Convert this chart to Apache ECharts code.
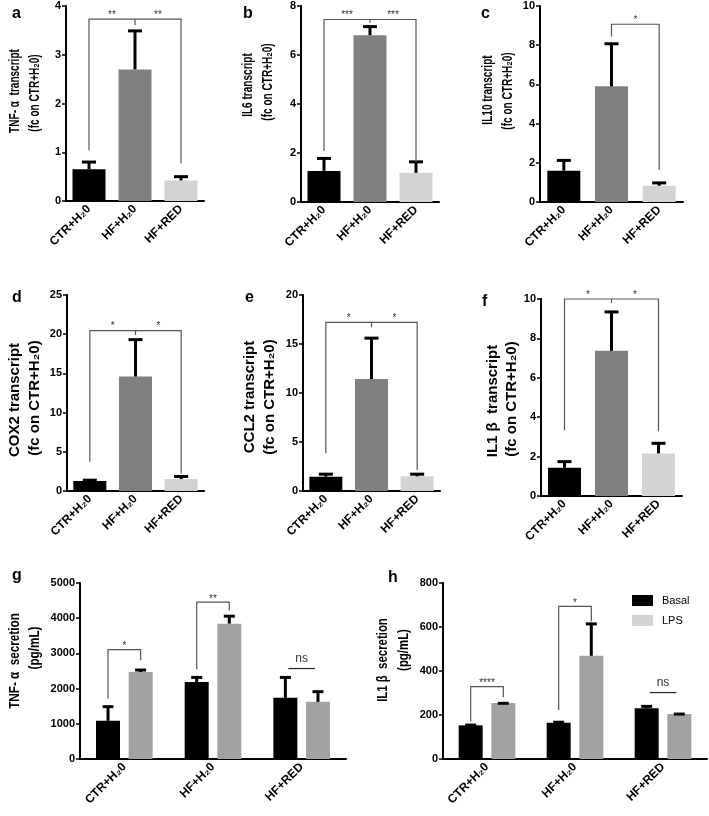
<!DOCTYPE html>
<html>
<head>
<meta charset="utf-8">
<script src="https://cdn.jsdelivr.net/npm/echarts@6/dist/echarts.min.js"></script>
<style>
html,body{margin:0;padding:0;background:#fff;}
#chart{width:709px;height:816px;}
</style>
</head>
<body>
<div id="chart"></div>
<script>
// ---------- data ----------
const categories = ['CTR+H\u20820', 'HF+H\u20820', 'HF+RED'];

// transcript panels (fold change on CTR+H2O): bar mean and top of error bar
const tnfTrMean  = [0.65, 2.70, 0.42];   const tnfTrErr  = [0.83, 3.52, 0.53];
const il6Mean    = [1.27, 6.81, 1.19];   const il6Err    = [1.84, 7.22, 1.70];
const il10Mean   = [1.60, 5.90, 0.83];   const il10Err   = [2.20, 8.15, 1.05];
const cox2Mean   = [1.28, 14.6, 1.53];   const cox2Err   = [1.57, 19.5, 2.04];
const ccl2Mean   = [1.46, 11.43, 1.50];  const ccl2Err   = [1.87, 15.75, 1.87];
const il1bTrMean = [1.43, 7.37, 2.16];   const il1bTrErr = [1.82, 9.42, 2.75];

// significance brackets: [fromCat, toCat, bracketY, fromEndY, toEndY, midCat(-1 none), midEndY]
const tnfTrBracket = [0, 2, 3.73, 1.04, 0.77, 1, 3.61];  const tnfTrStars = ['**', '**'];
const il6Bracket   = [0, 2, 7.45, 2.08, 1.63, 1, 7.32];  const il6Stars   = ['***', '***'];
const il10Bracket  = [1, 2, 9.07, 8.44, 1.65, -1, 0];    const il10Stars  = ['*'];
const cox2Bracket  = [0, 2, 20.45, 3.74, 2.25, 1, 19.9]; const cox2Stars  = ['*', '*'];
const ccl2Bracket  = [0, 2, 17.2, 3.84, 2.14, 1, 16.7];  const ccl2Stars  = ['*', '*'];
const il1bTrBracket= [0, 2, 10.0, 3.34, 3.29, 1, 9.8];   const il1bTrStars= ['*', '*'];

// secretion panels (pg/mL)
const seriesNames = ['Basal', 'LPS'];
const tnfSecBasal = [1085, 2190, 1737];  const tnfSecBasalErr = [1530, 2360, 2360];
const tnfSecLps   = [2473, 3845, 1623];  const tnfSecLpsErr   = [2570, 4100, 1955];
const il1bSecBasal = [153, 165, 231];    const il1bSecBasalErr = [161, 174, 246];
const il1bSecLps   = [254, 469, 205];    const il1bSecLpsErr   = [260, 621, 211];
// [cat, bracketY, basalEndY, lpsEndY]
const tnfSecBrackets  = [[0, 3107, 1720, 2805], [1, 4456, 2550, 4220], [2, 2570, 2570, 2570]];
const tnfSecLabels    = ['*', '**', 'ns'];
const il1bSecBrackets = [[0, 329, 170, 281], [1, 694, 223, 625], [2, 302, 302, 302]];
const il1bSecLabels   = ['****', '*', 'ns'];

// axis ranges
const yMax      = [4, 8, 10, 25, 20, 10, 5000, 800];
const yInterval = [1, 2, 2, 5, 5, 2, 1000, 200];

// ---------- styling ----------
const FONT = '"Liberation Sans", Arial, Helvetica, sans-serif';
const trColors = ['#000000', '#808080', '#d3d3d3'];
const grids = [
  {left: 66,  top: 6,   width: 138, height: 195},
  {left: 301, top: 6,   width: 138, height: 196},
  {left: 540, top: 6,   width: 143, height: 196},
  {left: 67,  top: 295, width: 137, height: 196},
  {left: 303, top: 295, width: 137, height: 196},
  {left: 541, top: 299, width: 141, height: 197},
  {left: 80,  top: 583, width: 266, height: 176},
  {left: 443, top: 583, width: 264, height: 176}
];

const xAxes = grids.map((g, i) => ({
  type: 'category', gridIndex: i, data: categories,
  axisLine: {lineStyle: {color: '#000', width: 2}},
  axisTick: {alignWithLabel: true, length: 4, lineStyle: {color: '#000', width: 1.5}},
  axisLabel: {rotate: 45, interval: 0, color: '#000', fontWeight: 'bold', fontSize: 12, fontFamily: FONT, margin: 6}
}));
const yAxes = grids.map((g, i) => ({
  type: 'value', gridIndex: i, min: 0, max: yMax[i], interval: yInterval[i],
  axisLine: {show: true, lineStyle: {color: '#000', width: 2}},
  axisTick: {show: true, length: 4, lineStyle: {color: '#000', width: 1.5}},
  splitLine: {show: false},
  axisLabel: {color: '#000', fontWeight: 'bold', fontSize: 11, fontFamily: FONT, margin: 5,
    formatter: v => String(v)}
}));

function trBars(gi, mean) {
  return {type: 'bar', xAxisIndex: gi, yAxisIndex: gi, barWidth: 33, z: 2, silent: true,
    data: mean.map((v, i) => ({value: v, itemStyle: {color: trColors[i]}}))};
}
function errSeries(gi, mean, err, offset, capW) {
  return {type: 'custom', xAxisIndex: gi, yAxisIndex: gi, z: 4, silent: true,
    data: mean.map((m, i) => [i, m, err[i]]),
    renderItem: (params, api) => {
      const p0 = api.coord([api.value(0), api.value(1)]);
      const p1 = api.coord([api.value(0), api.value(2)]);
      const x = p0[0] + offset, yc = p1[1] + 1.5;
      return {type: 'group', children: [
        {type: 'line', shape: {x1: x, y1: p0[1], x2: x, y2: yc}, style: {stroke: '#000', lineWidth: 3}},
        {type: 'line', shape: {x1: x - capW / 2, y1: yc, x2: x + capW / 2, y2: yc}, style: {stroke: '#000', lineWidth: 3}}
      ]};
    }};
}
function trBracket(gi, brk, stars) {
  return {type: 'custom', xAxisIndex: gi, yAxisIndex: gi, z: 5, silent: true,
    data: [brk],
    renderItem: (params, api) => {
      const from = api.value(0), to = api.value(1), y = api.value(2);
      const pA = api.coord([from, api.value(3)]), pB = api.coord([from, y]);
      const pC = api.coord([to, y]), pD = api.coord([to, api.value(4)]);
      const mid = api.value(5);
      const ch = [{type: 'polyline', shape: {points: [pA, pB, pC, pD]},
        style: {stroke: '#555', lineWidth: 1.2, fill: null}}];
      let xs;
      if (mid >= 0) {
        const pM = api.coord([mid, y]), pM2 = api.coord([mid, api.value(6)]);
        ch.push({type: 'line', shape: {x1: pM[0], y1: pM[1], x2: pM2[0], y2: pM2[1]}, style: {stroke: '#555', lineWidth: 1.2}});
        xs = [(pB[0] + pM[0]) / 2, (pM[0] + pC[0]) / 2];
      } else {
        xs = [(pB[0] + pC[0]) / 2];
      }
      xs.forEach((x, k) => ch.push({type: 'text', style: {text: stars[k], x: x, y: pB[1] + 1,
        font: '10px ' + FONT, fill: '#333', align: 'center', verticalAlign: 'bottom',
        textAlign: 'center', textVerticalAlign: 'bottom'}}));
      return {type: 'group', children: ch};
    }};
}
function secBracket(gi, brks, labels, half) {
  return {type: 'custom', xAxisIndex: gi, yAxisIndex: gi, z: 5, silent: true,
    data: brks,
    renderItem: (params, api) => {
      const c = api.coord([api.value(0), api.value(1)]);
      const yL = api.coord([api.value(0), api.value(2)])[1];
      const yR = api.coord([api.value(0), api.value(3)])[1];
      const lab = labels[params.dataIndex];
      const ns = lab === 'ns';
      const h = ns ? half - 3 : half;
      const ch = [{type: 'polyline', shape: {points: [[c[0] - h, yL], [c[0] - h, c[1]], [c[0] + h, c[1]], [c[0] + h, yR]]},
        style: {stroke: ns ? '#222' : '#555', lineWidth: 1.2, fill: null}}];
      ch.push({type: 'text', style: {text: lab, x: c[0], y: c[1] - (ns ? 4 : -2),
        font: (ns ? '12px ' : '10px ') + FONT, fill: '#333', align: 'center', verticalAlign: 'bottom',
        textAlign: 'center', textVerticalAlign: 'bottom'}});
      return {type: 'group', children: ch};
    }};
}
function secBars(gi, basal, lps) {
  return [
    {name: seriesNames[0], type: 'bar', xAxisIndex: gi, yAxisIndex: gi, barWidth: 24, barGap: '36%', z: 2, silent: true,
      itemStyle: {color: '#000'}, data: basal},
    {name: seriesNames[1], type: 'bar', xAxisIndex: gi, yAxisIndex: gi, barWidth: 24, barGap: '36%', z: 2, silent: true,
      itemStyle: {color: '#a2a2a2'}, data: lps}
  ];
}

const series = [
  trBars(0, tnfTrMean), errSeries(0, tnfTrMean, tnfTrErr, 0, 14), trBracket(0, tnfTrBracket, tnfTrStars),
  trBars(1, il6Mean), errSeries(1, il6Mean, il6Err, 0, 14), trBracket(1, il6Bracket, il6Stars),
  trBars(2, il10Mean), errSeries(2, il10Mean, il10Err, 0, 14), trBracket(2, il10Bracket, il10Stars),
  trBars(3, cox2Mean), errSeries(3, cox2Mean, cox2Err, 0, 14), trBracket(3, cox2Bracket, cox2Stars),
  trBars(4, ccl2Mean), errSeries(4, ccl2Mean, ccl2Err, 0, 14), trBracket(4, ccl2Bracket, ccl2Stars),
  trBars(5, il1bTrMean), errSeries(5, il1bTrMean, il1bTrErr, 0, 14), trBracket(5, il1bTrBracket, il1bTrStars),
  ...secBars(6, tnfSecBasal, tnfSecLps),
  errSeries(6, tnfSecBasal, tnfSecBasalErr, -16.3, 11), errSeries(6, tnfSecLps, tnfSecLpsErr, 16.3, 11),
  secBracket(6, tnfSecBrackets, tnfSecLabels, 16.3),
  ...secBars(7, il1bSecBasal, il1bSecLps),
  errSeries(7, il1bSecBasal, il1bSecBasalErr, -16.3, 11), errSeries(7, il1bSecLps, il1bSecLpsErr, 16.3, 11),
  secBracket(7, il1bSecBrackets, il1bSecLabels, 16.3)
];

// y-axis titles (two lines each) and panel letters
const yTitles = [
  ['TNF- \u03b1  transcript', '(fc on CTR+H\u20820)', 15, 91, 35, 93, 0.67],
  ['IL6 transcript', '(fc on CTR+H\u20820)', 248, 85, 268, 82, 0.67],
  ['IL10 transcript', '(fc on CTR+H\u20820)', 488, 90, 508, 91, 0.67],
  ['COX2 transcript', '(fc on CTR+H\u20820)', 15, 400, 35, 398, 1],
  ['CCL2 transcript', '(fc on CTR+H\u20820)', 250, 397, 270, 397, 1],
  ['IL1 \u03b2  transcript', '(fc on CTR+H\u20820)', 493, 401, 512, 399, 1],
  ['TNF- \u03b1  secretion', '(pg/mL)', 15, 661, 35, 648, 0.78],
  ['IL1 \u03b2  secretion', '(pg/mL)', 383, 660, 404, 650, 0.76]
];
const letters = [['a', 12, 18], ['b', 243, 18], ['c', 481, 18], ['d', 12, 302], ['e', 245, 302], ['f', 482, 306], ['g', 12, 580], ['h', 388, 582]];

const graphic = [];
yTitles.forEach(t => {
  [[t[0], t[2], t[3]], [t[1], t[4], t[5]]].forEach(l => graphic.push({
    type: 'text', x: l[1], y: l[2], rotation: Math.PI / 2, scaleX: t[6], scaleY: 1, silent: true,
    style: {text: l[0], font: 'bold 15px ' + FONT, fill: '#000', align: 'center', verticalAlign: 'middle',
      textAlign: 'center', textVerticalAlign: 'middle'}
  }));
});
letters.forEach(l => graphic.push({
  type: 'text', x: l[1], y: l[2] + 3.5, silent: true,
  style: {text: l[0], font: 'bold 16px ' + FONT, fill: '#000', align: 'left', verticalAlign: 'bottom',
    textAlign: 'left', textVerticalAlign: 'bottom'}
}));

const chart = echarts.init(document.getElementById('chart'), null, {renderer: 'canvas'});
chart.setOption({
  animation: false,
  backgroundColor: '#fff',
  grid: grids,
  xAxis: xAxes,
  yAxis: yAxes,
  legend: {
    orient: 'vertical', left: 627, top: 590, itemWidth: 21, itemHeight: 11, itemGap: 9,
    icon: 'rect', selectedMode: false,
    textStyle: {fontSize: 11, color: '#000', fontFamily: FONT, padding: [0, 0, 0, 4]},
    data: [{name: 'Basal', itemStyle: {color: '#000'}}, {name: 'LPS', itemStyle: {color: '#d3d3d3'}}]
  },
  graphic: graphic,
  series: series
});
</script>
</body>
</html>
